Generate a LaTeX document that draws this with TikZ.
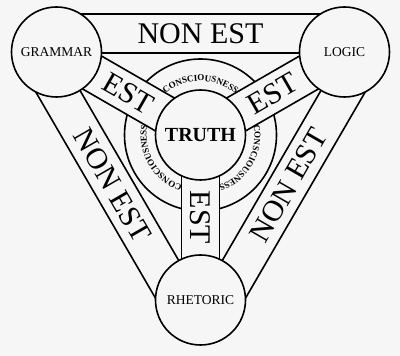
\documentclass[tikz,border=0pt]{standalone}
\usepackage{fontspec}
\setmainfont{Liberation Serif}
\usetikzlibrary{calc,decorations.text}
\definecolor{bg}{RGB}{246,246,246}
\begin{document}
\begin{tikzpicture}[x=1pt,y=1pt,
  line width=1.6pt,
  band/.style={draw=black, fill=bg, line join=miter},
  disc/.style={circle, draw=black, fill=bg, line width=1.6pt, minimum size=90pt, inner sep=0pt},
  big/.style={font=\fontsize{30}{30}\selectfont, inner sep=0pt},
  small/.style={font=\fontsize{13.5}{14}\selectfont},
  ringtext/.style={decorate, decoration={text along path, text align=center,
     text={|\fontsize{9}{10}\selectfont\bfseries|CONSCIOUSNESS}}},
]
\fill[bg] (0,0) rectangle (400,356);
\useasboundingbox (0,0) rectangle (400,356);
\coordinate (G) at (56.5,304);
\coordinate (L) at (344.5,304);
\coordinate (R) at (200.5,56);
\coordinate (T) at (200.5,221);

% ring around TRUTH
\draw (T) circle[radius=76];

% EST bands
\foreach \P in {G,L,R} {
  \draw[band] ($(T)!19pt!90:(\P)$) -- ($(\P)!19pt!-90:(T)$) -- ($(\P)!19pt!90:(T)$) -- ($(T)!19pt!-90:(\P)$) -- cycle;
}
% NON EST bands
\foreach \A/\B in {G/L, L/R, R/G} {
  \draw[band] ($(\A)!1pt!-90:(\B)$) -- ($(\B)!1pt!90:(\A)$) -- ($(\B)!38pt!-90:(\A)$) -- ($(\A)!38pt!90:(\B)$) -- cycle;
}

% discs
\node[disc] (truth) at (T) {\fontsize{20}{20}\selectfont\bfseries TRUTH};
\node[disc, small] (grammar) at (G) {GRAMMAR};
\node[disc, small] (logic) at (L) {LOGIC};
\node[disc, small] (rhetoric) at (R) {RHETORIC};

% ring texts
\path[ringtext] ($(T)+(150:54)$) arc[start angle=150, end angle=30, radius=54];
\path[ringtext] ($(T)+(270:54)$) arc[start angle=270, end angle=150, radius=54];
\path[ringtext] ($(T)+(30:54)$) arc[start angle=30, end angle=-90, radius=54];

% labels
\node[big] (ne1) at (200.5,322.5) {NON EST};
\node[big, rotate=-60] (ne2) at (112.5,170.7) {NON EST};
\node[big, rotate=60] (ne3) at (288.5,170.7) {NON EST};
\node[big, rotate=-30] (e1) at (128.5,262.5) {EST};
\node[big, rotate=30] (e2) at (272.5,262.5) {EST};
\node[big, rotate=-90] (e3) at (200.5,138.5) {EST};
\end{tikzpicture}
\end{document}
